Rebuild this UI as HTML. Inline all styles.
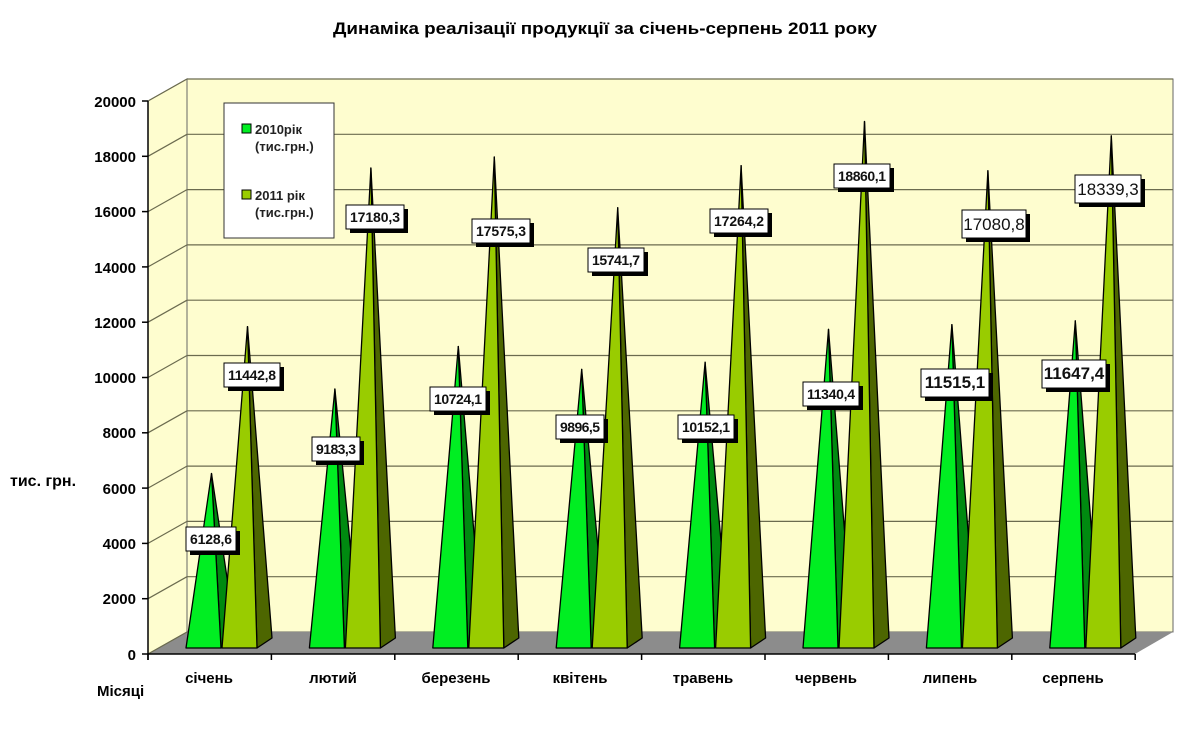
<!DOCTYPE html>
<html><head><meta charset="utf-8"><style>
html,body{margin:0;padding:0;background:#fff;width:1193px;height:730px;overflow:hidden}
svg text{font-family:"Liberation Sans",sans-serif;}
</style></head><body>
<svg id="s" width="1193" height="730" viewBox="0 0 1193 730" xmlns="http://www.w3.org/2000/svg">
<text x="605" y="34" text-anchor="middle" font-size="17" font-weight="bold" textLength="544" lengthAdjust="spacingAndGlyphs">Динаміка реалізації продукції  за  січень-серпень 2011 року</text>
<polygon points="187,79 1173,79 1173,632 187,632" fill="#FEFDCF" stroke="#666" stroke-width="1"/>
<polygon points="148,101 187,79 187,632 148,654" fill="#FEFDCF" stroke="#666" stroke-width="1"/>
<polygon points="187,632 1173,632 1135,654 148,654" fill="#8c8c8c"/>
<g id="grid" stroke="#6b6b4f" stroke-width="1.2"></g>
<g id="pyr" stroke="#000" stroke-width="1.3" stroke-linejoin="round"></g>
<line x1="148" y1="101" x2="148" y2="660" stroke="#000" stroke-width="1.5"/>
<line x1="148" y1="654" x2="1135" y2="654" stroke="#000" stroke-width="1.5"/>
<g id="ticks" stroke="#000" stroke-width="1.5"></g>
<g font-size="15" font-weight="bold" text-anchor="end">
<text x="136" y="107">20000</text><text x="136" y="162">18000</text><text x="136" y="217">16000</text><text x="136" y="273">14000</text><text x="136" y="328">12000</text><text x="136" y="383">10000</text><text x="136" y="438">8000</text><text x="136" y="494">6000</text><text x="136" y="549">4000</text><text x="136" y="604">2000</text><text x="136" y="660">0</text>
</g>
<text x="10" y="486" font-size="16" font-weight="bold">тис. грн.</text>
<text x="97" y="696" font-size="15" font-weight="bold">Місяці</text>
<g font-size="15" font-weight="bold" text-anchor="middle">
<text x="209" y="683">січень</text><text x="333" y="683">лютий</text><text x="456" y="683">березень</text><text x="580" y="683">квітень</text><text x="703" y="683">травень</text><text x="826" y="683">червень</text><text x="950" y="683">липень</text><text x="1073" y="683">серпень</text>
</g>
<rect x="224" y="103" width="110" height="135" fill="#fff" stroke="#333"/>
<rect x="242" y="124" width="9" height="9" fill="#00ee22" stroke="#000"/>
<rect x="242" y="190" width="9" height="9" fill="#99cc00" stroke="#000"/>
<g font-size="13" font-weight="bold" fill="#222">
<text x="255" y="134">2010рік</text><text x="255" y="151">(тис.грн.)</text>
<text x="255" y="200">2011 рік</text><text x="255" y="217">(тис.грн.)</text>
</g>
<g id="labels"></g>
</svg>
<script>
var NS="http://www.w3.org/2000/svg";
function el(p,t,a){var e=document.createElementNS(NS,t);for(var k in a)e.setAttribute(k,a[k]);p.appendChild(e);return e;}
var g=document.getElementById('grid'),tk=document.getElementById('ticks'),py=document.getElementById('pyr');
for(var v=0;v<=20000;v+=2000){var yb=632-v*0.02765,yf=654-v*0.02765;
 if(v>0)el(g,'line',{x1:187,y1:yb,x2:1173,y2:yb});
 el(g,'line',{x1:148,y1:yf,x2:187,y2:yb});
 el(tk,'line',{x1:142,y1:yf,x2:148,y2:yf});}
for(var i=0;i<=8;i++){var x=148+i*123.4;el(tk,'line',{x1:x,y1:654,x2:x,y2:660});}
var d10=[6128.6,9183.3,10724.1,9896.5,10152.1,11340.4,11515.1,11647.4];
var d11=[11442.8,17180.3,17575.3,15741.7,17264.2,18860.1,17080.8,18339.3];
function pyr(x0,v,cf,cs){var ya=643-v*0.02765,xa=x0+17.5+8;
 el(py,'polygon',{points:(x0+35)+',648 '+(x0+50)+',638 '+xa+','+ya,fill:cs});
 el(py,'polygon',{points:x0+',648 '+(x0+35)+',648 '+xa+','+ya,fill:cf});}
for(var c=0;c<8;c++){var x0=186+c*123.4;pyr(x0,d10[c],'#00ee22','#008a10');pyr(x0+36,d11[c],'#99cc00','#4d6600');}
var L=[["6128,6",186,527,50,24,1],["11442,8",224,363,56,24,1],["9183,3",312,437,48,24,1],["17180,3",346,205,58,24,1],["10724,1",430,387,56,24,1],["17575,3",472,219,58,24,1],["9896,5",556,415,48,24,1],["15741,7",588,248,56,24,1],["10152,1",678,415,56,24,1],["17264,2",710,209,58,24,1],["11340,4",803,382,56,24,1],["18860,1",834,164,56,24,1],["11515,1",921,369,68,28,2],["17080,8",962,210,64,28,0],["11647,4",1042,360,64,28,2],["18339,3",1075,175,66,28,0]];
var lg=document.getElementById('labels');
L.forEach(function(l){el(lg,'rect',{x:l[1]+4,y:l[2]+4,width:l[3],height:l[4],fill:'#000'});
 el(lg,'rect',{x:l[1],y:l[2],width:l[3],height:l[4],fill:'#fff',stroke:'#000','stroke-width':1});
 var t=el(lg,'text',{x:l[1]+l[3]/2,y:l[2]+l[4]/2+(l[5]?5:6),'text-anchor':'middle','font-size':l[5]==2?17:(l[5]?14:17),'font-weight':l[5]?'bold':'normal',fill:'#111'});
 if(l[5]==1)t.setAttribute('textLength',l[3]-8);
 t.textContent=l[0];});
</script>
</body></html>
